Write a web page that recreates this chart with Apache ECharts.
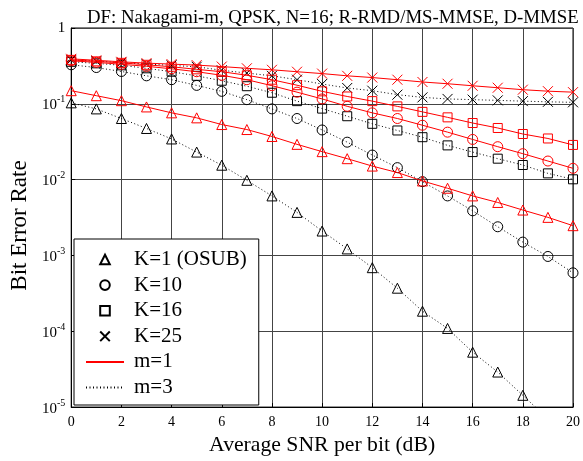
<!DOCTYPE html>
<html>
<head>
<meta charset="utf-8">
<script src="https://cdn.jsdelivr.net/npm/echarts@6/dist/echarts.min.js"></script>
<style>html,body{margin:0;padding:0;background:#fff}#c{width:583px;height:461px}</style>
</head>
<body>
<div id="c"></div>
<script>
const snr = [0,1,2,3,4,5,6,7,8,9,10,11,12,13,14,15,16,17,18,19,20];
const xTicks = [0,2,4,6,8,10,12,14,16,18,20];
const yTicks = [1,0.1,0.01,0.001,0.0001,0.00001];

const k1_m1 = [0.149,0.128,0.110,0.091,0.076,0.0653,0.0533,0.0458,0.0371,0.0292,0.0234,0.0189,0.0151,0.0124,0.0096,0.0077,0.0061,0.0050,0.00397,0.00318,0.00247];
const k1_m3 = [0.103,0.0857,0.064,0.0473,0.0344,0.0231,0.0155,0.0098,0.0061,0.0037,0.0021,0.00122,0.00069,0.00037,0.000184,0.000109,0.000053,0.000029,0.0000143,0.000007,0.0000033];
const k10_m1 = [0.369,0.3525,0.332,0.3125,0.2897,0.265,0.238,0.208,0.1734,0.1425,0.116,0.0927,0.076,0.064,0.0522,0.0423,0.0339,0.0272,0.022,0.0176,0.0141];
const k10_m3 = [0.327,0.301,0.267,0.234,0.208,0.175,0.146,0.1135,0.0857,0.064,0.0452,0.0312,0.0211,0.0144,0.0094,0.0061,0.00388,0.00239,0.0015,0.00097,0.00059];
const k16_m1 = [0.380,0.363,0.347,0.327,0.308,0.285,0.265,0.238,0.208,0.176,0.146,0.125,0.1085,0.0925,0.0783,0.0663,0.0558,0.048,0.040,0.0349,0.0287];
const k16_m3 = [0.358,0.342,0.322,0.294,0.265,0.234,0.2015,0.1707,0.140,0.1085,0.0865,0.0686,0.0545,0.0445,0.0363,0.0283,0.0231,0.0189,0.0156,0.0121,0.0101];
const k25_m1 = [0.392,0.375,0.358,0.344,0.334,0.324,0.310,0.294,0.281,0.265,0.2505,0.234,0.222,0.208,0.194,0.184,0.173,0.163,0.1536,0.1468,0.1425];
const k25_m3 = [0.380,0.366,0.349,0.335,0.321,0.308,0.277,0.2544,0.234,0.208,0.1825,0.1617,0.149,0.132,0.1216,0.116,0.1135,0.111,0.1085,0.1062,0.1047];

const legendK = ['K=1 (OSUB)','K=10','K=16','K=25'];
const legendM = ['m=1','m=3'];

const FONT = 'Liberation Serif';
const XPATH = 'path://M0,0L10,10M10,0L0,10';
const shapes = {1:'triangle',10:'circle',16:'rect',25:XPATH};
const DOT = [1,2.5];
const CLEAR = 'rgba(0,0,0,0)';

function mk(name, data, K, m) {
  const col = m === 1 ? '#ff0000' : '#000000';
  return {
    name: name, type: 'line',
    data: snr.map((x,i)=>[x, data[i]]),
    symbol: shapes[K], symbolSize: K===16 ? 9 : 10,
    showAllSymbol: true,
    clip: true,
    lineStyle: {color: col, width: 1, type: m === 1 ? 'solid' : DOT},
    itemStyle: {color: CLEAR, borderColor: col, borderWidth: 1},
    emphasis: {disabled: true},
    z: m === 1 ? 4 : 3
  };
}

const series = [
  mk('k1m3', k1_m3, 1, 3), mk('k10m3', k10_m3, 10, 3), mk('k16m3', k16_m3, 16, 3), mk('k25m3', k25_m3, 25, 3),
  mk('k1m1', k1_m1, 1, 1), mk('k10m1', k10_m1, 10, 1), mk('k16m1', k16_m1, 16, 1), mk('k25m1', k25_m1, 25, 1)
];
// legend-only series
[1,10,16,25].forEach((K,i)=>{
  series.push({name: legendK[i], type:'line', data:[], symbol: shapes[K],
    lineStyle:{width:0, color:CLEAR},
    itemStyle:{color:CLEAR, borderColor:'#000', borderWidth:1}});
});
series.push({name: legendM[0], type:'line', data:[], symbol:'circle', lineStyle:{color:'#ff0000', width:1}, itemStyle:{color:CLEAR, borderColor:CLEAR, borderWidth:0}});
series.push({name: legendM[1], type:'line', data:[], symbol:'circle', lineStyle:{color:'#000', width:1, type: DOT}, itemStyle:{color:CLEAR, borderColor:CLEAR, borderWidth:0}});

const legendData = legendK.map(n => ({name: n})).concat(legendM.map(n => ({
  name: n, itemStyle: {color: CLEAR, borderColor: CLEAR, borderWidth: 0}
})));

const chart = echarts.init(document.getElementById('c'), null, {renderer:'canvas'});
chart.setOption({
  animation: false,
  backgroundColor: '#fff',
  textStyle: {fontFamily: FONT, color:'#000'},
  title: {
    text: 'DF: Nakagami-m, QPSK, N=16; R-RMD/MS-MMSE, D-MMSE',
    left: 82, top: 4,
    textStyle: {fontFamily: FONT, fontSize: 18.8, fontWeight: 'normal', color: '#000'}
  },
  grid: {left: 68.5, right: 7, top: 28, bottom: 52, show: true, borderColor: '#000', borderWidth: 1, backgroundColor: CLEAR},
  legend: {
    data: legendData,
    orient: 'vertical', left: 74, top: 239,
    backgroundColor: '#fff', borderColor: '#000', borderWidth: 1, borderRadius: 0,
    padding: [10, 12, 7, 11],
    itemWidth: 38, itemHeight: 12, itemGap: 4.6,
    selectedMode: false,
    textStyle: {fontFamily: FONT, fontSize: 21, lineHeight: 18, color: '#000', padding: [0,0,0,5]},
    z: 10
  },
  xAxis: {
    type: 'value', min: 0, max: 20, interval: 2,
    name: 'Average SNR per bit (dB)', nameLocation: 'middle', nameGap: 23,
    nameTextStyle: {fontFamily: FONT, fontSize: 21.7, color: '#000'},
    axisLine: {show: true, lineStyle: {color:'#000', width: 1}},
    axisTick: {show: true, inside: true, length: 4, lineStyle: {color:'#000'}},
    axisLabel: {fontFamily: FONT, fontSize: 14, color: '#000', margin: 8,
      formatter: v => xTicks.indexOf(v) >= 0 ? String(v) : ''},
    splitLine: {show: true, lineStyle: {color: '#444', width: 1}}
  },
  yAxis: {
    type: 'log', logBase: 10, min: 1e-5, max: 1,
    name: 'Bit Error Rate', nameLocation: 'middle', nameGap: 39,
    nameTextStyle: {fontFamily: FONT, fontSize: 23, color: '#000', padding: [0, 16, 0, 0]},
    axisLine: {show: true, lineStyle: {color:'#000', width: 1}},
    axisTick: {show: true, inside: true, length: 4, lineStyle: {color:'#000'}},
    axisLabel: {fontFamily: FONT, fontSize: 15, color: '#000', margin: 6,
      formatter: function(v){
        const e = Math.round(Math.log10(v));
        if (yTicks.every(t => Math.abs(Math.log10(t) - e) > 0.01)) return '';
        if (e === 0) return '1';
        return '{b|10}{s|' + e + '}';
      },
      rich: {
        b: {fontFamily: FONT, fontSize: 15, color:'#000', verticalAlign: 'bottom', lineHeight: 18},
        s: {fontFamily: FONT, fontSize: 10, color:'#000', verticalAlign: 'top', lineHeight: 18, padding: [0,0,7,0]}
      }
    },
    splitLine: {show: true, lineStyle: {color: '#444', width: 1}}
  },
  series: series
});
</script>
</body>
</html>
